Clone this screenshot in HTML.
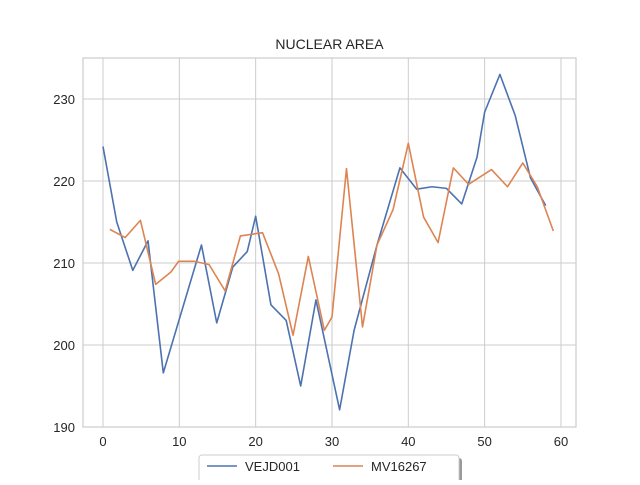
<!DOCTYPE html>
<html><head><meta charset="utf-8"><style>
body{margin:0;background:#fff;font-family:"Liberation Sans","DejaVu Sans",sans-serif;}
svg text{font-family:"Liberation Sans","DejaVu Sans",sans-serif;fill:#262626;}
</style></head><body>
<svg id="chart" width="640" height="480" xmlns="http://www.w3.org/2000/svg"></svg>
<script>
const xTicks=[0,10,20,30,40,50,60];
const yTicks=[190,200,210,220,230];
const seriesNames=["VEJD001","MV16267"];
const blueX=[0,1.8,3.9,5.9,7.9,12.9,14.9,17,18.9,20,22,24,25.9,27.9,31,32.9,35.9,38.9,41.1,43.1,45,47,49,50,52,54,56,58];
const blueY=[224.2,215.0,209.1,212.7,196.6,212.2,202.7,209.5,211.4,215.7,204.9,203.0,195.0,205.5,192.1,201.8,212.2,221.6,219.0,219.3,219.1,217.2,222.9,228.4,233.0,228.0,220.4,217.0];
const orangeX=[0.9,2.9,4.9,6.9,8.9,9.9,12,13.9,16,18,20.9,23,24.9,26.9,29,30,31.9,34,35.9,38,40,42,43.9,45.9,47.9,50.9,53,55,56.9,59];
const orangeY=[214.1,213.1,215.2,207.4,208.9,210.2,210.2,209.8,206.6,213.3,213.7,208.7,201.2,210.8,201.8,203.4,221.5,202.2,212.2,216.5,224.6,215.6,212.5,221.6,219.6,221.4,219.3,222.2,219.3,213.9];

const NS="http://www.w3.org/2000/svg";
const svg=document.getElementById('chart');
const L=83,R=576,T=58,B=427;
const xMin=-2.62,xMax=61.97,yMin=190,yMax=235;
const sx=v=>L+(v-xMin)/(xMax-xMin)*(R-L);
const sy=v=>B-(v-yMin)/(yMax-yMin)*(B-T);
function mk(tag,attrs,parent){const e=document.createElementNS(NS,tag);for(const k in attrs)e.setAttribute(k,attrs[k]);(parent||svg).appendChild(e);return e;}

const grid=mk('g',{});


xTicks.forEach(t=>{
  const l=mk('line',{x1:sx(t),x2:sx(t),y1:T,y2:B,stroke:'#cccccc','stroke-width':1},grid);
  
  
  const tx=mk('text',{x:sx(t),y:B+19,'text-anchor':'middle','font-size':13});
  
  
  tx.textContent=t;
});
yTicks.forEach(t=>{
  const l=mk('line',{x1:L,x2:R,y1:sy(t),y2:sy(t),stroke:'#cccccc','stroke-width':1},grid);
  
  
  const tx=mk('text',{x:L-8,y:sy(t)+5,'text-anchor':'end','font-size':13});
  
  
  tx.textContent=t;
});
const frame=mk('rect',{x:L,y:T,width:R-L,height:B-T,fill:'none',stroke:'#cccccc','stroke-width':1.2});



function line(xs,ys,color,name){
  const p=mk('polyline',{points:xs.map((x,i)=>sx(x)+','+sy(ys[i])).join(' '),fill:'none',stroke:color,'stroke-width':1.6,'stroke-linejoin':'round'});
  
  
}
line(blueX,blueY,'#4c72b0','series-vejd001-line');
line(orangeX,orangeY,'#dd8452','series-mv16267-line');

const title=mk('text',{x:(L+R)/2,y:49,'text-anchor':'middle','font-size':14});


title.textContent='NUCLEAR AREA';

const leg=mk('g',{});


mk('rect',{x:202,y:458,width:260,height:30,rx:3,fill:'#999'},leg);
mk('rect',{x:199,y:455,width:260,height:30,rx:3,fill:'#fff',stroke:'#ccc'},leg);
[['#4c72b0',207,0],['#dd8452',333,1]].forEach(([c,x,i])=>{
  const e=mk('g',{},leg);
  
  
  mk('line',{x1:x,x2:x+30,y1:466,y2:466,stroke:c,'stroke-width':1.6},e);
  const t=mk('text',{x:x+38,y:471,'font-size':13},e);
  t.textContent=seriesNames[i];
});
</script>
</body></html>
